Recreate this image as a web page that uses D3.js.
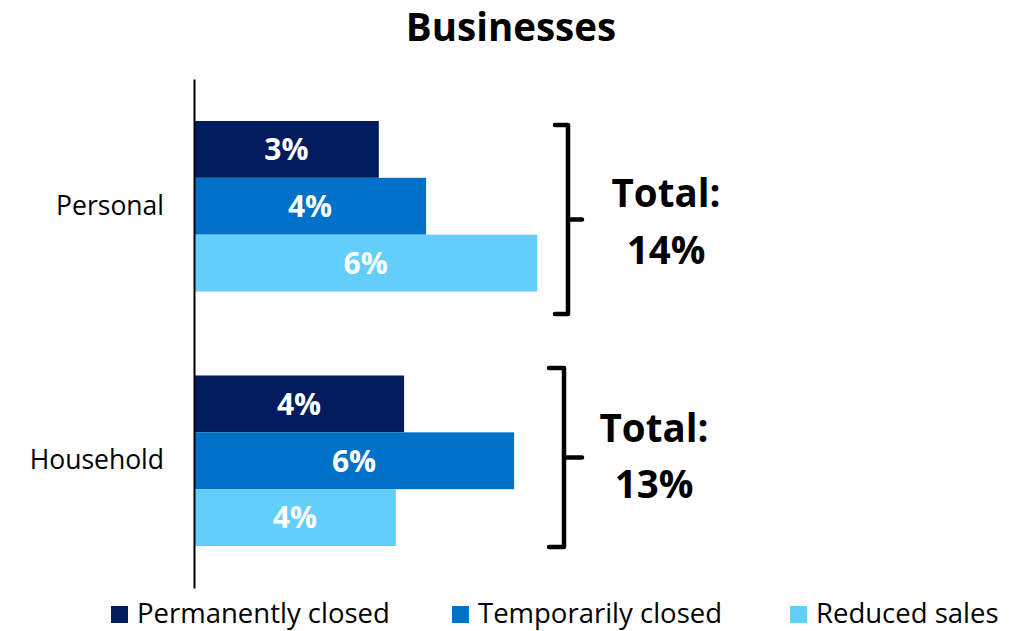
<!DOCTYPE html>
<html>
<head>
<meta charset="utf-8">
<script src="https://cdn.jsdelivr.net/npm/d3@7"></script>
<style>
  html, body { margin: 0; padding: 0; background: #fff; }
  svg { display: block; }
  text { font-family: "Open Sans", "Lato", sans-serif; }
</style>
</head>
<body>
<svg id="chart" width="1020" height="631"></svg>
<script>
// Share of businesses affected, by category (percent)
const categories = ["Personal", "Household"];
const seriesNames = ["Permanently closed", "Temporarily closed", "Reduced sales"];
const permanentlyClosed = [3.36, 3.82];
const temporarilyClosed = [4.22, 5.82];
const reducedSales = [6.24, 3.67];
const colors = ["#021B5F", "#0071C8", "#64CEFA"];

const series = [permanentlyClosed, temporarilyClosed, reducedSales];

const svg = d3.select("#chart");
const W = 1020, H = 631;
const margin = { left: 194, right: 20, top: 79, bottom: 43 };
const FONT = "'Open Sans', Lato, sans-serif";

// Scales
const x = d3.scaleLinear().domain([0, 10]).range([margin.left, margin.left + 550]);
const y = d3.scaleBand().domain(categories)
  .range([margin.top, H - margin.bottom])
  .paddingInner(0.33).paddingOuter(0.165);
const ySub = d3.scaleBand().domain(d3.range(seriesNames.length)).range([0, y.bandwidth()]);

// Title
svg.append("text")
  .attr("x", 511).attr("y", 41)
  .attr("text-anchor", "middle")
  .attr("font-size", 38.5).attr("font-weight", 700)
  .text("Businesses");

// Bars and value labels
const groups = svg.selectAll("g.cat").data(categories).join("g")
  .attr("class", "cat")
  .attr("transform", d => `translate(0,${y(d)})`);

groups.each(function(cat, ci) {
  const g = d3.select(this);
  series.forEach((vals, si) => {
    const v = vals[ci];
    g.append("rect")
      .attr("x", x(0)).attr("y", ySub(si))
      .attr("width", x(v) - x(0)).attr("height", ySub.bandwidth())
      .attr("fill", colors[si]);
    g.append("text")
      .attr("x", (x(0) + x(v)) / 2)
      .attr("y", ySub(si) + ySub.bandwidth() / 2)
      .attr("dy", "0.36em")
      .attr("text-anchor", "middle")
      .attr("fill", "#fff")
      .attr("font-size", 30).attr("font-weight", 700)
      .text(d3.format(".0f")(v) + "%");
  });
});

// Category axis (line only, no ticks)
const yAxis = d3.axisLeft(y).tickSize(0).tickPadding(30);
const axisG = svg.append("g")
  .attr("transform", `translate(${margin.left},0)`)
  .call(yAxis);
axisG.select(".domain").attr("stroke", "#000").attr("stroke-width", 2);
axisG.selectAll("text")
  .attr("font-family", FONT)
  .attr("font-size", 26.5).attr("fill", "#000");

// Brackets with group totals
const brackets = [
  { top: 125, bottom: 314, spine: 568, left: 555, tip: 582, textX: 666, line1: 207, line2: 264 },
  { top: 368, bottom: 547, spine: 564, left: 549, tip: 582, textX: 654, line1: 442, line2: 498 }
];
categories.forEach((cat, ci) => {
  const b = brackets[ci];
  const mid = (b.top + b.bottom) / 2;
  const total = d3.sum(series, s => s[ci]);
  svg.append("path")
    .attr("d", `M${b.left},${b.top} L${b.spine},${b.top} L${b.spine},${b.bottom} L${b.left},${b.bottom} M${b.spine},${mid} L${b.tip},${mid}`)
    .attr("fill", "none").attr("stroke", "#000")
    .attr("stroke-width", 4.5).attr("stroke-linejoin", "round").attr("stroke-linecap", "round");
  svg.append("text")
    .attr("x", b.textX).attr("y", b.line1)
    .attr("text-anchor", "middle")
    .attr("font-size", 38.5).attr("font-weight", 700)
    .text("Total:");
  svg.append("text")
    .attr("x", b.textX).attr("y", b.line2)
    .attr("text-anchor", "middle")
    .attr("font-size", 38.5).attr("font-weight", 700)
    .text(d3.format(".0f")(total) + "%");
});

// Legend
const legendX = [111, 452, 790];
const legend = svg.selectAll("g.legend").data(seriesNames).join("g")
  .attr("class", "legend")
  .attr("transform", (d, i) => `translate(${legendX[i]},606)`);
legend.append("rect")
  .attr("width", 17).attr("height", 17)
  .attr("fill", (d, i) => colors[i]);
legend.append("text")
  .attr("x", 26).attr("y", 17)
  .attr("font-size", 27.5).attr("fill", "#000")
  .text(d => d);
</script>
</body>
</html>
